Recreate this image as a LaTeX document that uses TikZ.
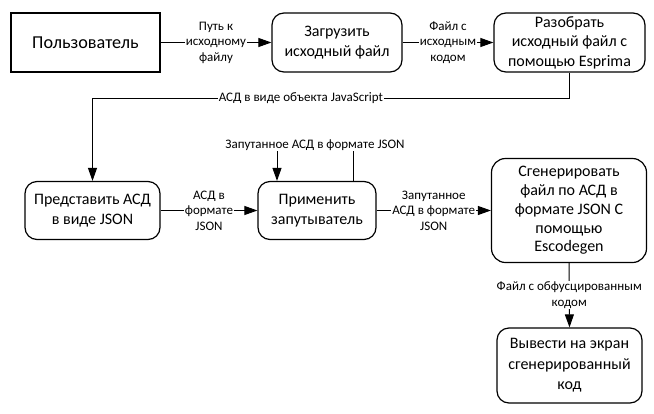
\documentclass[tikz,border=0pt]{standalone}
\usepackage{fontspec}
\setmainfont{Carlito}
\usetikzlibrary{arrows.meta}
\begin{document}
\begin{tikzpicture}[x=1pt,y=-1pt,
  box/.style={draw, line width=1.2pt, rounded corners=12pt, align=center, inner sep=0pt, font=\fontsize{16}{19.5}\selectfont},
  lbl/.style={fill=white, inner sep=1pt, align=center, font=\fontsize{13}{15.5}\selectfont},
  conn/.style={line width=1pt, -{Triangle[length=13pt,width=9pt]}}
]
\useasboundingbox (0,0) rectangle (654,413);
\fill[white] (0,0) rectangle (654,413);
% nodes
\node[box, sharp corners, minimum width=149pt, minimum height=59pt, font=\fontsize{18.2}{22}\selectfont] (user) at (85.5,42.5) {Пользователь};
\node[box, minimum width=130pt, minimum height=59pt] (load) at (337,42.5) {Загрузить\\исходный файл};
\node[box, minimum width=151pt, minimum height=59pt] (parse) at (569.5,42.5) {Разобрать\\исходный файл с\\помощью Esprima};
\node[box, minimum width=135pt, minimum height=58pt] (repr) at (92.5,210.5) {Представить АСД\\в виде JSON};
\node[box, minimum width=118pt, minimum height=58pt] (apply) at (317,210.5) {Применить\\запутыватель};
\node[box, rounded corners=14pt, minimum width=155pt, minimum height=104pt, font=\fontsize{16}{18.8}\selectfont] (gen) at (569,210.5) {Сгенерировать\\файл по АСД в\\формате JSON С\\помощью\\Escodegen};
\node[box, minimum width=145pt, minimum height=75pt, font=\fontsize{16}{20.5}\selectfont] (out) at (569.5,365.5) {Вывести на экран\\сгенерированный\\код};
% connectors
\draw[conn] (user) -- node[lbl]{Путь к\\исходному\\файлу} (load);
\draw[conn] (load) -- node[lbl]{Файл с\\исходным\\кодом} (parse);
\draw[conn] (parse.south) -- (parse.south |- 0,98) -- node[lbl, pos=0.563]{АСД в виде объекта JavaScript} (repr.north |- 0,98) -- (repr.north);
\draw[conn] (repr) -- node[lbl]{АСД в\\формате\\JSON} (apply);
\draw[conn] (apply.north -| 353,0) -- (353,145) -- node[lbl]{Запутанное АСД в формате JSON} (277,145) -- (apply.north -| 277,0);
\draw[conn] (apply.east) -- node[lbl]{Запутанное\\АСД в формате\\JSON} (apply.east -| gen.west);
\draw[conn] (gen.south) -- node[lbl]{Файл с обфусцированным\\кодом} (out.north);
\end{tikzpicture}
\end{document}
